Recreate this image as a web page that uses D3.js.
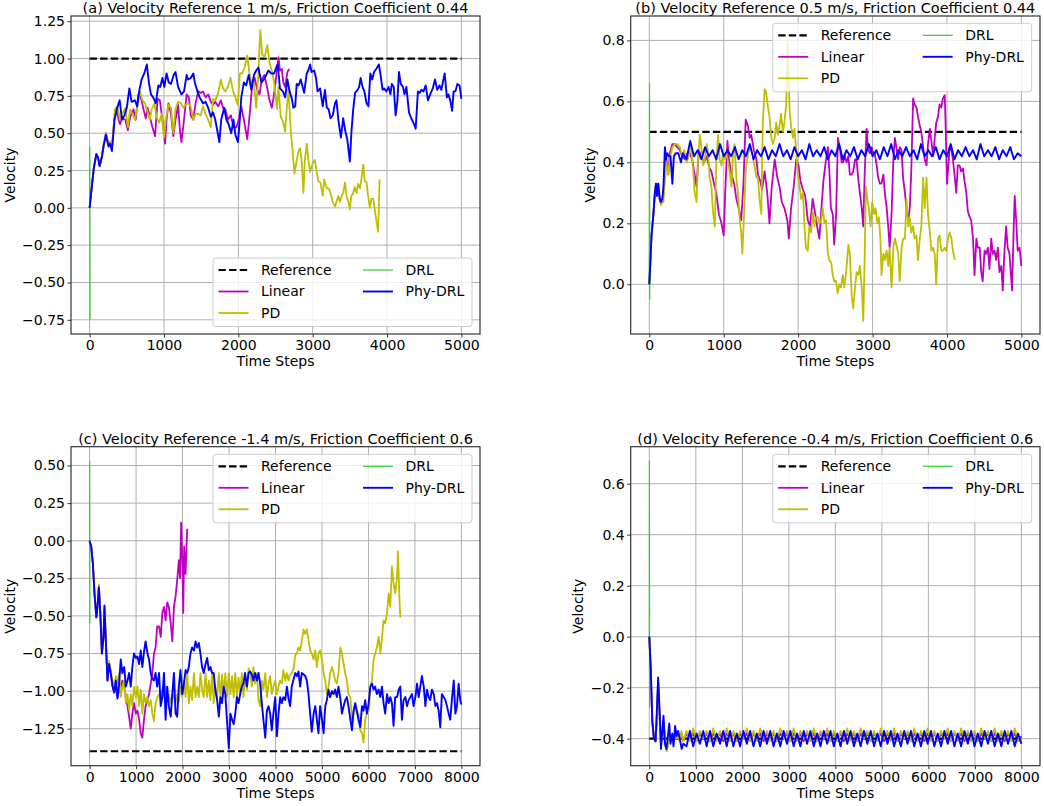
<!DOCTYPE html>
<html>
<head>
<meta charset="utf-8">
<script src="https://cdn.jsdelivr.net/npm/d3@7"></script>
<style>
  body { margin: 0; background: #fff; }
  svg { display: block; font-family: "DejaVu Sans", sans-serif; }
</style>
</head>
<body>
<div id="chart"></div>
<script>
// ---- Titles, legend names, ticks ----
var titles = [
  "(a) Velocity Reference 1 m/s, Friction Coefficient 0.44",
  "(b) Velocity Reference 0.5 m/s, Friction Coefficient 0.44",
  "(c) Velocity Reference -1.4 m/s, Friction Coefficient 0.6",
  "(d) Velocity Reference -0.4 m/s, Friction Coefficient 0.6"
];
var seriesNames = ["Reference", "Linear", "PD", "DRL", "Phy-DRL"];
var xTicks5k = [0, 1000, 2000, 3000, 4000, 5000];
var xTicks8k = [0, 1000, 2000, 3000, 4000, 5000, 6000, 7000, 8000];
var aYTicks = [-0.75, -0.5, -0.25, 0, 0.25, 0.5, 0.75, 1.0, 1.25];
var bYTicks = [0, 0.2, 0.4, 0.6, 0.8];
var cYTicks = [-1.25, -1.0, -0.75, -0.5, -0.25, 0, 0.25, 0.5];
var dYTicks = [-0.4, -0.2, 0, 0.2, 0.4, 0.6];
var referenceValues = [1.0, 0.5, -1.4, -0.4];
var referenceEnds = [5000, 5000, 8000, 8000];

// ---- (a) reference 1 m/s ----
var aDrl = [[0, 0], [3, 0.41], [6, -0.75]];
var aLinear = [[0,0],[55,0.26],[90,0.36],[112,0.34],[135,0.28],[165,0.34],[190,0.42],[220,0.50],[255,0.42],[275,0.44],[300,0.40],[335,0.60],[365,0.66],[390,0.59],[410,0.56],[435,0.60],[480,0.59],[515,0.52],[545,0.61],[590,0.66],[620,0.59],[655,0.76],[690,0.74],[725,0.66],[755,0.60],[780,0.67],[810,0.61],[845,0.54],[880,0.48],[915,0.73],[945,0.72],[980,0.59],[1015,0.43],[1035,0.59],[1060,0.70],[1095,0.63],[1125,0.48],[1155,0.59],[1190,0.69],[1215,0.52],[1235,0.44],[1270,0.59],[1305,0.76],[1335,0.74],[1360,0.62],[1395,0.59],[1425,0.70],[1460,0.78],[1495,0.77],[1525,0.78],[1560,0.74],[1595,0.76],[1630,0.71],[1660,0.69],[1690,0.71],[1730,0.68],[1765,0.72],[1795,0.67],[1825,0.66],[1860,0.59],[1900,0.62],[1935,0.54],[1975,0.54],[2005,0.59],[2040,0.68],[2075,0.59],[2120,0.46],[2150,0.61],[2185,0.81],[2220,0.87],[2255,0.79],[2285,0.76],[2315,0.86],[2350,0.89],[2390,0.80],[2420,0.72],[2450,0.67],[2475,0.74],[2510,0.88],[2540,1.01],[2560,0.92],[2585,0.93],[2605,0.84],[2630,0.81],[2660,0.91],[2685,0.93]];
var aPd = [[0,0],[55,0.26],[90,0.36],[112,0.34],[135,0.29],[165,0.35],[190,0.43],[220,0.50],[255,0.42],[275,0.44],[300,0.40],[340,0.66],[375,0.68],[410,0.59],[440,0.63],[480,0.67],[515,0.54],[545,0.66],[575,0.63],[610,0.59],[645,0.69],[680,0.78],[710,0.72],[745,0.70],[780,0.64],[810,0.59],[835,0.66],[870,0.70],[900,0.61],[935,0.57],[970,0.63],[1000,0.47],[1025,0.59],[1060,0.69],[1095,0.67],[1125,0.50],[1155,0.66],[1190,0.71],[1230,0.70],[1260,0.67],[1290,0.69],[1325,0.70],[1360,0.68],[1395,0.59],[1425,0.63],[1460,0.63],[1495,0.62],[1525,0.68],[1560,0.63],[1595,0.59],[1630,0.54],[1660,0.73],[1690,0.72],[1730,0.77],[1765,0.86],[1795,0.80],[1825,0.78],[1860,0.81],[1895,0.87],[1930,0.78],[1960,0.74],[1995,0.69],[2020,0.90],[2050,0.90],[2085,0.94],[2120,1.02],[2150,0.90],[2185,0.82],[2210,0.84],[2240,0.67],[2265,0.86],[2295,1.19],[2320,1.03],[2355,1.01],[2390,1.09],[2420,0.97],[2450,0.92],[2485,0.83],[2520,0.66],[2540,0.81],[2570,0.61],[2600,0.58],[2630,0.51],[2650,0.66],[2675,0.79],[2705,0.52],[2730,0.38],[2755,0.23],[2785,0.32],[2810,0.38],[2830,0.40],[2855,0.30],[2875,0.10],[2895,0.32],[2920,0.43],[2940,0.33],[2965,0.24],[3000,0.30],[3030,0.32],[3055,0.24],[3075,0.18],[3105,0.17],[3135,0.08],[3155,0.19],[3190,0.13],[3215,0.13],[3240,0.10],[3270,0.04],[3300,0.01],[3320,0.04],[3345,0.08],[3365,0.04],[3390,0.08],[3410,0.10],[3435,0.17],[3455,0.08],[3480,0.04],[3500,-0.01],[3520,0.08],[3545,0.10],[3565,0.14],[3590,0.10],[3610,0.16],[3635,0.13],[3655,0.19],[3680,0.29],[3700,0.18],[3725,0.17],[3745,0.08],[3770,0.00],[3790,0.06],[3815,0.06],[3835,-0.01],[3855,-0.08],[3880,-0.16],[3900,0.19]];
var aPhyDrl = [[0,0],[55,0.26],[90,0.36],[112,0.34],[135,0.28],[165,0.34],[190,0.42],[220,0.49],[255,0.41],[275,0.43],[300,0.38],[335,0.59],[370,0.67],[405,0.72],[435,0.59],[470,0.62],[500,0.67],[535,0.80],[565,0.71],[610,0.72],[640,0.68],[670,0.79],[700,0.86],[735,0.90],[770,0.96],[800,0.83],[825,0.76],[855,0.74],[890,0.70],[925,0.82],[950,0.81],[980,0.87],[1005,0.81],[1035,0.90],[1065,0.84],[1095,0.83],[1130,0.89],[1155,0.91],[1190,0.81],[1235,0.76],[1270,0.78],[1305,0.89],[1325,0.86],[1360,0.87],[1395,0.90],[1415,0.84],[1450,0.78],[1480,0.74],[1525,0.70],[1560,0.71],[1595,0.67],[1630,0.61],[1660,0.64],[1690,0.59],[1720,0.51],[1745,0.44],[1770,0.59],[1810,0.67],[1840,0.59],[1870,0.56],[1905,0.50],[1935,0.59],[1960,0.49],[1995,0.44],[2020,0.59],[2040,0.74],[2075,0.84],[2105,0.82],[2140,0.89],[2175,0.79],[2210,0.89],[2240,0.92],[2270,0.94],[2310,0.84],[2345,0.86],[2375,0.89],[2405,0.92],[2440,0.90],[2480,0.90],[2510,0.94],[2530,0.96],[2560,0.80],[2600,0.78],[2630,0.74],[2660,0.86],[2690,0.78],[2720,0.73],[2740,0.67],[2765,0.68],[2785,0.83],[2810,0.82],[2840,0.86],[2860,0.82],[2885,0.77],[2920,0.90],[2940,0.92],[2965,0.96],[2985,0.91],[3020,0.92],[3045,0.87],[3065,0.78],[3100,0.80],[3120,0.73],[3135,0.68],[3165,0.79],[3190,0.67],[3215,0.66],[3240,0.60],[3270,0.62],[3300,0.70],[3320,0.72],[3345,0.59],[3380,0.47],[3410,0.60],[3440,0.51],[3465,0.46],[3500,0.31],[3520,0.50],[3545,0.66],[3570,0.77],[3605,0.79],[3625,0.81],[3645,0.87],[3670,0.81],[3695,0.78],[3725,0.70],[3750,0.68],[3775,0.90],[3800,0.86],[3825,0.91],[3855,0.93],[3890,0.96],[3910,0.90],[3940,0.79],[3960,0.80],[3990,0.78],[4020,0.81],[4045,0.76],[4065,0.83],[4090,0.81],[4115,0.62],[4140,0.72],[4160,0.91],[4185,0.83],[4215,0.81],[4235,0.76],[4260,0.81],[4295,0.64],[4325,0.60],[4355,0.57],[4385,0.53],[4415,0.78],[4440,0.77],[4460,0.79],[4490,0.78],[4520,0.82],[4550,0.72],[4580,0.76],[4615,0.80],[4645,0.86],[4675,0.79],[4705,0.82],[4730,0.79],[4750,0.84],[4775,0.90],[4805,0.74],[4825,0.76],[4850,0.72],[4875,0.65],[4895,0.78],[4920,0.78],[4945,0.83],[4975,0.82],[5000,0.73]];

// ---- (b) reference 0.5 m/s ----
var bDrl = [[0, 0], [3, 0.66], [6, -0.05]];
var bLinear = [[0,0],[30,0.16],[55,0.23],[75,0.30],[90,0.33],[105,0.29],[120,0.33],[140,0.28],[155,0.27],[175,0.28],[190,0.30],[210,0.37],[230,0.41],[255,0.36],[275,0.43],[310,0.46],[345,0.46],[375,0.45],[410,0.44],[440,0.42],[480,0.41],[510,0.43],[545,0.43],[575,0.41],[610,0.36],[635,0.32],[665,0.44],[700,0.42],[735,0.40],[770,0.42],[810,0.38],[835,0.37],[870,0.33],[900,0.30],[935,0.23],[970,0.20],[1000,0.16],[1020,0.30],[1050,0.47],[1070,0.41],[1105,0.36],[1140,0.33],[1170,0.28],[1200,0.25],[1235,0.21],[1265,0.33],[1295,0.54],[1325,0.52],[1350,0.48],[1370,0.49],[1405,0.44],[1440,0.41],[1460,0.36],[1490,0.34],[1515,0.31],[1550,0.37],[1585,0.30],[1615,0.20],[1645,0.32],[1685,0.41],[1720,0.35],[1750,0.32],[1780,0.27],[1815,0.25],[1855,0.21],[1875,0.15],[1905,0.25],[1940,0.32],[1975,0.41],[2005,0.39],[2030,0.34],[2065,0.31],[2095,0.29],[2130,0.21],[2160,0.19],[2195,0.28],[2230,0.23],[2255,0.19],[2285,0.15],[2310,0.24],[2340,0.34],[2375,0.41],[2400,0.45],[2420,0.37],[2440,0.25],[2465,0.23],[2485,0.13],[2510,0.23],[2535,0.48],[2565,0.44],[2585,0.40],[2605,0.40],[2630,0.42],[2650,0.40],[2675,0.42],[2695,0.36],[2720,0.36],[2740,0.37],[2765,0.41],[2785,0.41],[2810,0.34],[2830,0.30],[2855,0.25],[2875,0.19],[2895,0.37],[2920,0.51],[2940,0.44],[2965,0.43],[2985,0.45],[3010,0.43],[3030,0.43],[3055,0.39],[3075,0.35],[3100,0.33],[3120,0.33],[3145,0.36],[3165,0.30],[3190,0.25],[3210,0.19],[3230,0.12],[3255,0.23],[3280,0.41],[3300,0.48],[3320,0.45],[3345,0.41],[3365,0.45],[3390,0.44],[3410,0.35],[3435,0.30],[3455,0.25],[3480,0.21],[3500,0.25],[3520,0.37],[3545,0.61],[3565,0.59],[3590,0.58],[3610,0.55],[3635,0.52],[3655,0.50],[3680,0.45],[3700,0.41],[3725,0.39],[3745,0.46],[3770,0.51],[3790,0.47],[3815,0.42],[3835,0.48],[3855,0.53],[3880,0.55],[3900,0.59],[3925,0.58],[3945,0.61],[3970,0.62],[3980,0.54],[4000,0.33],[4020,0.39],[4035,0.45],[4060,0.44],[4080,0.41],[4105,0.35],[4125,0.30],[4145,0.39],[4170,0.39],[4190,0.37],[4215,0.38],[4235,0.34],[4260,0.30],[4280,0.24],[4305,0.22],[4325,0.21],[4350,0.15],[4370,0.03],[4395,0.15],[4415,0.12],[4440,0.12],[4460,0.04],[4480,0.01],[4505,0.11],[4525,0.10],[4550,0.12],[4570,0.05],[4595,0.15],[4615,0.10],[4640,0.11],[4660,0.08],[4685,0.12],[4705,0.04],[4730,0.06],[4750,-0.02],[4770,0.10],[4795,0.19],[4815,0.12],[4840,0.10],[4860,0.03],[4875,-0.02],[4895,0.17],[4910,0.29],[4930,0.21],[4950,0.11],[4975,0.12],[5000,0.06]];
var bPd = [[0,0],[30,0.16],[55,0.23],[75,0.30],[90,0.33],[105,0.29],[120,0.33],[140,0.28],[155,0.26],[175,0.27],[190,0.27],[210,0.34],[230,0.40],[255,0.36],[275,0.41],[310,0.45],[345,0.46],[380,0.46],[410,0.45],[440,0.42],[470,0.44],[500,0.40],[530,0.42],[560,0.45],[590,0.37],[610,0.30],[635,0.27],[655,0.41],[680,0.49],[700,0.45],[725,0.39],[745,0.41],[770,0.46],[790,0.43],[810,0.35],[835,0.32],[855,0.24],[880,0.19],[900,0.40],[925,0.49],[945,0.41],[970,0.39],[990,0.43],[1015,0.41],[1035,0.43],[1060,0.40],[1080,0.37],[1105,0.32],[1125,0.43],[1145,0.46],[1170,0.35],[1190,0.30],[1215,0.21],[1235,0.17],[1250,0.10],[1270,0.21],[1295,0.37],[1315,0.41],[1340,0.44],[1360,0.45],[1385,0.43],[1405,0.40],[1440,0.35],[1460,0.35],[1480,0.28],[1505,0.23],[1525,0.53],[1550,0.64],[1570,0.63],[1595,0.58],[1615,0.55],[1640,0.48],[1660,0.46],[1685,0.48],[1705,0.53],[1730,0.49],[1750,0.52],[1770,0.56],[1795,0.50],[1815,0.53],[1840,0.59],[1860,0.80],[1885,0.57],[1905,0.52],[1930,0.48],[1950,0.51],[1975,0.44],[1995,0.36],[2020,0.32],[2040,0.28],[2065,0.30],[2085,0.19],[2105,0.12],[2130,0.11],[2150,0.19],[2175,0.17],[2195,0.24],[2220,0.19],[2240,0.22],[2265,0.22],[2285,0.20],[2310,0.21],[2330,0.25],[2355,0.20],[2375,0.21],[2400,0.10],[2420,0.08],[2445,0.07],[2465,0.03],[2485,0.01],[2510,0.01],[2530,-0.03],[2555,0.00],[2575,-0.01],[2600,0.03],[2620,-0.01],[2645,0.04],[2675,0.13],[2695,0.10],[2720,-0.04],[2740,-0.08],[2765,-0.01],[2785,0.04],[2810,0.03],[2830,0.06],[2855,-0.01],[2875,-0.12],[2895,0.10],[2910,0.32],[2930,0.28],[2950,0.25],[2975,0.19],[2995,0.27],[3020,0.23],[3040,0.25],[3065,0.20],[3085,0.22],[3105,0.15],[3120,0.03],[3145,0.10],[3165,0.08],[3190,0.11],[3210,0.06],[3230,0.12],[3255,-0.01],[3280,0.12],[3300,0.15],[3320,0.13],[3345,0.10],[3365,0.01],[3390,0.12],[3410,0.15],[3435,0.15],[3455,0.28],[3480,0.19],[3500,0.22],[3520,0.17],[3545,0.19],[3565,0.15],[3590,0.16],[3610,0.08],[3635,0.15],[3655,0.19],[3680,0.35],[3700,0.25],[3725,0.35],[3745,0.23],[3770,0.17],[3790,0.11],[3815,0.12],[3835,0.10],[3855,0.00],[3880,0.15],[3900,0.16],[3925,0.11],[3945,0.11],[3970,0.12],[3990,0.11],[4015,0.15],[4035,0.17],[4060,0.15],[4080,0.11],[4105,0.08]];
var bPhyDrlStart = [[0,0],[30,0.16],[55,0.23],[75,0.30],[90,0.33],[105,0.29],[120,0.33],[140,0.28],[155,0.27],[175,0.28],[190,0.32],[210,0.45],[225,0.41],[240,0.43],[265,0.42],[285,0.42],[310,0.33],[330,0.42],[355,0.43],[390,0.43],[425,0.40]];
// steady part, one reading every 50 steps from t = 450
var bPhyDrlSteady = [
  0.43,0.41,0.47,0.42,0.44,0.41,0.45,0.42,0.44,0.41,
  0.46,0.42,0.44,0.42,0.45,0.41,0.44,0.42,0.46,0.41,
  0.44,0.42,0.45,0.41,0.44,0.42,0.46,0.42,0.44,0.41,
  0.45,0.42,0.44,0.41,0.46,0.42,0.44,0.42,0.45,0.41,
  0.44,0.42,0.46,0.41,0.44,0.42,0.45,0.41,0.44,0.42,
  0.46,0.42,0.44,0.41,0.45,0.42,0.46,0.41,0.44,0.42,
  0.45,0.42,0.44,0.41,0.46,0.42,0.44,0.42,0.45,0.41,
  0.44,0.42,0.46,0.41,0.44,0.42,0.45,0.42,0.44,0.41,
  0.46,0.42,0.44,0.42,0.45,0.41,0.44,0.42,0.45,0.41,
  0.43,0.42
];

// ---- (c) reference -1.4 m/s ----
var cDrl = [[0, 0], [3, 0.53], [6, -0.55]];
var cLinear = [[0,0],[35,-0.04],[70,-0.15],[105,-0.35],[145,-0.51],[170,-0.44],[200,-0.30],[230,-0.48],[265,-0.75],[300,-0.64],[320,-0.45],[355,-0.71],[385,-0.93],[420,-0.82],[455,-0.88],[495,-0.97],[530,-1.01],[565,-0.95],[600,-1.04],[635,-1.00],[670,-0.97],[705,-0.93],[745,-0.97],[780,-1.04],[815,-1.10],[850,-1.17],[885,-1.25],[920,-1.15],[955,-1.08],[995,-1.15],[1030,-1.13],[1065,-1.19],[1100,-1.28],[1135,-1.31],[1170,-1.19],[1205,-1.10],[1245,-1.06],[1280,-1.02],[1315,-0.95],[1350,-0.88],[1385,-0.75],[1420,-0.71],[1455,-0.57],[1495,-0.57],[1530,-0.64],[1565,-0.48],[1600,-0.44],[1635,-0.53],[1670,-0.41],[1705,-0.44],[1745,-0.55],[1780,-0.67],[1815,-0.44],[1850,-0.37],[1885,-0.26],[1920,-0.13],[1945,-0.25],[1970,0.12],[1995,-0.13],[2015,-0.48],[2035,-0.04],[2065,-0.22],[2100,0.08]];
var cPd = [[0,0],[35,-0.04],[70,-0.15],[105,-0.34],[145,-0.50],[170,-0.43],[200,-0.29],[230,-0.47],[265,-0.74],[300,-0.63],[320,-0.44],[355,-0.70],[385,-0.92],[420,-0.80],[455,-0.86],[495,-0.93],[530,-0.97],[565,-0.90],[600,-0.95],[635,-0.88],[670,-1.04],[705,-0.97],[745,-0.93],[780,-1.08],[815,-1.02],[850,-1.13],[885,-1.02],[920,-1.10],[955,-0.97],[995,-1.04],[1030,-0.97],[1065,-1.10],[1100,-0.99],[1135,-1.15],[1170,-1.02],[1205,-1.08],[1245,-1.04],[1280,-1.10],[1315,-1.06],[1350,-1.15],[1385,-1.20],[1420,-1.08],[1455,-1.04],[1495,-1.02],[1530,-1.06],[1565,-0.99],[1600,-1.04],[1635,-0.97],[1670,-1.06],[1705,-1.02],[1745,-1.08],[1780,-1.02],[1815,-1.04],[1850,-1.08],[1885,-1.02],[1920,-1.07],[1955,-0.97],[1995,-1.04],[2030,-0.93],[2065,-1.04],[2100,-0.88],[2135,-1.08],[2170,-0.97],[2205,-1.06],[2245,-0.88],[2280,-1.04],[2315,-0.97],[2350,-1.04],[2385,-0.88],[2420,-0.99],[2455,-1.04],[2495,-0.88],[2530,-1.04],[2565,-0.93],[2600,-1.06],[2635,-0.88],[2670,-1.08],[2705,-0.97],[2745,-1.04],[2780,-0.88],[2815,-1.04],[2850,-0.89],[2885,-1.02],[2920,-0.88],[2955,-1.04],[2995,-0.88],[3030,-1.02],[3065,-0.90],[3100,-1.04],[3135,-0.88],[3170,-1.04],[3205,-0.91],[3240,-1.02],[3275,-0.88],[3310,-1.04],[3345,-0.90],[3385,-0.99],[3420,-0.85],[3455,-0.88],[3490,-0.97],[3525,-0.84],[3560,-0.95],[3600,-0.88],[3635,-1.06],[3670,-1.10],[3705,-0.93],[3740,-0.99],[3780,-0.88],[3815,-1.04],[3850,-0.95],[3885,-0.90],[3920,-1.02],[3955,-0.97],[3995,-0.93],[4030,-1.02],[4065,-0.97],[4100,-0.93],[4135,-0.95],[4170,-0.86],[4210,-0.93],[4245,-0.88],[4280,-0.93],[4315,-0.89],[4350,-0.88],[4390,-0.85],[4425,-0.76],[4460,-0.75],[4495,-0.71],[4530,-0.73],[4565,-0.67],[4605,-0.59],[4640,-0.62],[4675,-0.59],[4710,-0.66],[4745,-0.73],[4780,-0.75],[4820,-0.79],[4855,-0.73],[4890,-0.84],[4925,-0.75],[4960,-0.73],[5000,-0.79],[5035,-0.88],[5070,-0.93],[5105,-1.02],[5140,-0.97],[5175,-0.88],[5215,-0.84],[5250,-0.88],[5285,-0.93],[5320,-0.95],[5355,-0.88],[5395,-0.71],[5430,-0.75],[5465,-0.82],[5500,-0.88],[5535,-0.93],[5570,-1.02],[5610,-1.04],[5645,-1.19],[5680,-1.15],[5715,-1.10],[5750,-1.15],[5785,-1.15],[5825,-1.26],[5860,-1.28],[5895,-1.34],[5930,-1.19],[5965,-1.15],[6005,-1.13],[6040,-0.97],[6075,-0.93],[6110,-0.79],[6145,-0.75],[6180,-0.71],[6220,-0.64],[6255,-0.75],[6290,-0.65],[6325,-0.53],[6360,-0.55],[6400,-0.48],[6435,-0.35],[6470,-0.44],[6505,-0.17],[6540,-0.28],[6575,-0.35],[6615,-0.24],[6635,-0.07],[6665,-0.37],[6685,-0.51]];
var cPhyDrl = [[0,0],[35,-0.04],[70,-0.15],[105,-0.35],[145,-0.51],[170,-0.44],[200,-0.31],[230,-0.48],[265,-0.75],[300,-0.64],[320,-0.43],[355,-0.71],[385,-0.93],[420,-0.82],[455,-0.88],[495,-0.97],[530,-1.01],[565,-0.93],[600,-1.05],[635,-0.95],[670,-0.79],[705,-0.88],[745,-0.84],[780,-0.97],[815,-0.93],[850,-0.88],[885,-0.97],[920,-0.84],[955,-0.75],[995,-0.78],[1030,-0.77],[1065,-0.82],[1100,-0.73],[1135,-0.84],[1170,-0.74],[1205,-0.67],[1245,-0.75],[1280,-0.79],[1315,-0.88],[1350,-0.92],[1385,-0.93],[1420,-0.88],[1455,-0.97],[1495,-0.88],[1530,-1.10],[1565,-1.04],[1600,-0.88],[1635,-1.19],[1670,-0.97],[1705,-1.10],[1745,-1.17],[1780,-1.02],[1815,-0.88],[1850,-1.15],[1885,-1.17],[1920,-0.97],[1955,-0.86],[1995,-1.02],[2030,-0.95],[2065,-0.86],[2100,-0.88],[2135,-0.84],[2170,-0.75],[2205,-0.71],[2245,-0.73],[2280,-0.67],[2315,-0.71],[2350,-0.68],[2385,-0.75],[2420,-0.84],[2455,-0.88],[2495,-0.82],[2530,-0.78],[2565,-0.86],[2600,-0.84],[2635,-0.88],[2670,-0.88],[2705,-0.99],[2745,-1.06],[2780,-1.17],[2815,-1.04],[2850,-1.08],[2885,-0.97],[2920,-1.02],[2955,-1.19],[2995,-1.38],[3030,-1.15],[3065,-1.19],[3100,-1.22],[3135,-1.15],[3170,-1.04],[3205,-1.08],[3240,-1.02],[3275,-0.97],[3310,-0.95],[3345,-0.88],[3385,-0.97],[3420,-0.88],[3455,-0.87],[3490,-0.89],[3525,-0.93],[3560,-0.88],[3600,-0.93],[3635,-0.88],[3670,-0.95],[3705,-1.08],[3740,-1.19],[3780,-1.31],[3815,-1.13],[3850,-1.10],[3885,-1.15],[3920,-1.26],[3955,-1.15],[3995,-1.04],[4030,-1.30],[4065,-1.15],[4100,-1.04],[4135,-1.08],[4170,-1.04],[4210,-1.06],[4245,-0.97],[4280,-1.05],[4315,-1.10],[4350,-0.97],[4390,-0.92],[4425,-0.88],[4460,-0.90],[4495,-0.87],[4530,-0.97],[4565,-0.88],[4605,-0.89],[4640,-0.90],[4675,-0.93],[4710,-1.02],[4745,-1.15],[4780,-1.27],[4820,-1.15],[4855,-1.10],[4890,-1.19],[4925,-1.28],[4960,-1.10],[5000,-1.19],[5035,-1.28],[5070,-1.10],[5105,-1.06],[5140,-0.99],[5175,-1.04],[5215,-1.00],[5250,-1.02],[5285,-0.99],[5320,-1.04],[5355,-0.97],[5395,-1.05],[5430,-1.15],[5465,-1.10],[5500,-1.06],[5535,-1.04],[5570,-1.10],[5610,-1.19],[5645,-1.26],[5680,-1.13],[5715,-1.08],[5750,-1.13],[5785,-1.19],[5825,-1.24],[5860,-1.10],[5895,-1.13],[5930,-1.06],[5965,-1.15],[6005,-1.08],[6040,-0.97],[6075,-0.95],[6110,-0.99],[6145,-0.97],[6180,-1.02],[6220,-0.99],[6255,-1.04],[6290,-0.97],[6325,-1.08],[6360,-1.15],[6400,-1.02],[6435,-1.08],[6470,-1.04],[6505,-1.08],[6540,-1.23],[6575,-1.04],[6615,-1.04],[6650,-0.99],[6685,-0.97],[6720,-1.19],[6755,-1.06],[6795,-1.04],[6830,-1.10],[6865,-1.06],[6900,-1.04],[6935,-1.02],[6970,-1.10],[7010,-1.04],[7045,-0.95],[7080,-1.04],[7115,-0.97],[7150,-0.90],[7190,-0.97],[7225,-1.10],[7260,-0.99],[7295,-1.04],[7330,-1.06],[7365,-0.99],[7405,-1.02],[7440,-1.10],[7475,-1.08],[7510,-1.13],[7545,-1.24],[7580,-1.02],[7620,-1.04],[7655,-1.06],[7690,-1.10],[7725,-1.15],[7760,-1.19],[7800,-1.04],[7835,-0.93],[7870,-1.15],[7905,-1.10],[7940,-0.95],[7975,-1.06],[8000,-1.09]];

// ---- (d) reference -0.4 m/s ----
var dDrl = [[0, 0], [3, 0.69], [6, -0.28]];
var dLinearStart = [[0,0],[30,-0.13],[65,-0.34],[100,-0.40],[135,-0.41],[155,-0.34],[190,-0.18],[230,-0.34],[250,-0.42],[280,-0.38],[305,-0.33],[335,-0.40],[355,-0.43],[375,-0.44],[400,-0.42],[430,-0.38],[460,-0.40],[495,-0.39],[530,-0.41],[560,-0.38],[590,-0.40],[620,-0.39],[655,-0.41],[690,-0.38],[730,-0.41]];
var dPdStart = [[0,0],[30,-0.12],[65,-0.33],[100,-0.40],[135,-0.41],[155,-0.34],[190,-0.18],[230,-0.34],[250,-0.42],[280,-0.38],[305,-0.33],[335,-0.40],[355,-0.44],[375,-0.45],[400,-0.43],[430,-0.37],[460,-0.40],[495,-0.39],[530,-0.41],[560,-0.38],[590,-0.40],[620,-0.39],[655,-0.41],[690,-0.37],[730,-0.41]];
var dPhyDrlStart = [[0,0],[30,-0.12],[65,-0.33],[100,-0.40],[135,-0.41],[155,-0.33],[190,-0.16],[230,-0.33],[250,-0.44],[280,-0.37],[305,-0.31],[335,-0.42],[370,-0.44],[400,-0.39],[430,-0.34],[455,-0.42],[495,-0.38],[520,-0.43],[555,-0.35],[585,-0.39],[620,-0.37],[655,-0.40],[695,-0.44],[730,-0.42]];
// steady parts, one reading every 72 steps from t = 800
var dLinearSteady = [
  -0.38,-0.40,-0.38,-0.41,-0.38,-0.40,-0.38,-0.41,-0.38,-0.40,
  -0.38,-0.41,-0.38,-0.40,-0.38,-0.41,-0.38,-0.40,-0.38,-0.41,
  -0.38,-0.40,-0.38,-0.41,-0.38,-0.40,-0.38,-0.41,-0.38,-0.40,
  -0.38,-0.41,-0.38,-0.40,-0.38,-0.41,-0.38,-0.40,-0.38,-0.41,
  -0.38,-0.40,-0.38,-0.41,-0.38,-0.40,-0.38,-0.41,-0.38,-0.40,
  -0.38,-0.41,-0.38,-0.40,-0.38,-0.41,-0.38,-0.40,-0.38,-0.41,
  -0.38,-0.40,-0.38,-0.41,-0.38,-0.40,-0.38,-0.41,-0.38,-0.40,
  -0.38,-0.41,-0.38,-0.40,-0.38,-0.41,-0.38,-0.40,-0.38,-0.41,
  -0.38,-0.40,-0.38,-0.41,-0.38,-0.40,-0.38,-0.41,-0.38,-0.40,
  -0.38,-0.41,-0.38,-0.40,-0.38,-0.41,-0.38,-0.40,-0.38,-0.41,
  -0.39
];
var dPdSteady = [
  -0.37,-0.41,-0.36,-0.41,-0.37,-0.40,-0.37,-0.41,-0.36,-0.41,
  -0.37,-0.40,-0.36,-0.41,-0.37,-0.41,-0.37,-0.40,-0.36,-0.41,
  -0.37,-0.41,-0.36,-0.40,-0.37,-0.41,-0.37,-0.41,-0.36,-0.40,
  -0.37,-0.41,-0.36,-0.41,-0.37,-0.40,-0.37,-0.41,-0.36,-0.41,
  -0.37,-0.40,-0.36,-0.41,-0.37,-0.41,-0.37,-0.40,-0.36,-0.41,
  -0.37,-0.41,-0.36,-0.40,-0.37,-0.41,-0.37,-0.41,-0.36,-0.40,
  -0.37,-0.41,-0.36,-0.41,-0.37,-0.40,-0.37,-0.41,-0.36,-0.41,
  -0.37,-0.40,-0.36,-0.41,-0.37,-0.41,-0.37,-0.40,-0.36,-0.41,
  -0.37,-0.41,-0.36,-0.40,-0.37,-0.41,-0.37,-0.41,-0.36,-0.40,
  -0.37,-0.41,-0.36,-0.41,-0.37,-0.40,-0.37,-0.41,-0.36,-0.41,
  -0.40
];
var dPhyDrlSteady = [
  -0.43,-0.37,-0.43,-0.38,-0.42,-0.37,-0.43,-0.37,-0.43,-0.38,
  -0.42,-0.37,-0.43,-0.37,-0.43,-0.38,-0.43,-0.37,-0.42,-0.37,
  -0.43,-0.38,-0.43,-0.37,-0.42,-0.37,-0.43,-0.38,-0.43,-0.37,
  -0.42,-0.37,-0.43,-0.38,-0.43,-0.37,-0.42,-0.37,-0.43,-0.38,
  -0.43,-0.37,-0.42,-0.37,-0.43,-0.38,-0.43,-0.37,-0.42,-0.37,
  -0.43,-0.38,-0.43,-0.37,-0.42,-0.37,-0.43,-0.38,-0.43,-0.37,
  -0.42,-0.37,-0.43,-0.38,-0.43,-0.37,-0.42,-0.37,-0.43,-0.38,
  -0.43,-0.37,-0.42,-0.37,-0.43,-0.38,-0.43,-0.37,-0.42,-0.37,
  -0.43,-0.38,-0.43,-0.37,-0.42,-0.37,-0.43,-0.38,-0.43,-0.37,
  -0.42,-0.37,-0.43,-0.38,-0.43,-0.37,-0.42,-0.37,-0.43,-0.38,
  -0.42
];

// ---- build the full series tables ----
function withSteady(start, steady, t0, step) {
  return start.concat(steady.map(function(v, i) { return [t0 + i * step, v]; }));
}
var bPhyDrl = withSteady(bPhyDrlStart, bPhyDrlSteady, 450, 50);
var dLinear = withSteady(dLinearStart, dLinearSteady, 800, 72);
var dPd = withSteady(dPdStart, dPdSteady, 800, 72);
var dPhyDrl = withSteady(dPhyDrlStart, dPhyDrlSteady, 800, 72);

var colors = { Reference: "#000000", Linear: "#bf00bf", PD: "#bfbf00", DRL: "#33cc33", "Phy-DRL": "#0000ff" };
var widths = { Reference: 2.2, Linear: 1.8, PD: 1.8, DRL: 1.2, "Phy-DRL": 1.9 };

var panels = [
  { box: [71, 16, 480, 334], xDomain: [-250, 5250], yDomain: [-0.845, 1.285], xTicks: xTicks5k, yTicks: aYTicks, yFmt: ".2f",
    lines: { Linear: aLinear, PD: aPd, DRL: aDrl, "Phy-DRL": aPhyDrl }, legend: [213, 258], yLabelX: 15 },
  { box: [630.7, 16, 1040, 334], xDomain: [-250, 5250], yDomain: [-0.163, 0.88], xTicks: xTicks5k, yTicks: bYTicks, yFmt: ".1f",
    lines: { Linear: bLinear, PD: bPd, DRL: bDrl, "Phy-DRL": bPhyDrl }, legend: [772.7, 23.3], yLabelX: 595 },
  { box: [71, 446.7, 480, 765.7], xDomain: [-400, 8400], yDomain: [-1.496, 0.625], xTicks: xTicks8k, yTicks: cYTicks, yFmt: ".2f",
    lines: { Linear: cLinear, PD: cPd, DRL: cDrl, "Phy-DRL": cPhyDrl }, legend: [213, 454.3], yLabelX: 15 },
  { box: [630.7, 446.7, 1040, 765.7], xDomain: [-400, 8400], yDomain: [-0.506, 0.745], xTicks: xTicks8k, yTicks: dYTicks, yFmt: ".1f",
    lines: { Linear: dLinear, PD: dPd, DRL: dDrl, "Phy-DRL": dPhyDrl }, legend: [772.7, 454.3], yLabelX: 583 }
];

var svg = d3.select("#chart").append("svg")
  .attr("width", 1044)
  .attr("height", 806);

panels.forEach(function(p, i) {
  var left = p.box[0], top = p.box[1], right = p.box[2], bottom = p.box[3];
  var x = d3.scaleLinear().domain(p.xDomain).range([left, right]);
  var y = d3.scaleLinear().domain(p.yDomain).range([bottom, top]);
  var g = svg.append("g");

  // clip to the axes box
  g.append("clipPath").attr("id", "clip" + i)
    .append("rect").attr("x", left).attr("y", top).attr("width", right - left).attr("height", bottom - top);

  // grid
  g.selectAll(".vgrid").data(p.xTicks).enter().append("line")
    .attr("x1", function(d) { return x(d); }).attr("x2", function(d) { return x(d); })
    .attr("y1", top).attr("y2", bottom)
    .attr("stroke", "#b0b0b0").attr("stroke-width", 1);
  g.selectAll(".hgrid").data(p.yTicks).enter().append("line")
    .attr("y1", function(d) { return y(d); }).attr("y2", function(d) { return y(d); })
    .attr("x1", left).attr("x2", right)
    .attr("stroke", "#b0b0b0").attr("stroke-width", 1);

  // data lines
  var line = d3.line().x(function(d) { return x(d[0]); }).y(function(d) { return y(d[1]); });
  var plot = g.append("g").attr("clip-path", "url(#clip" + i + ")");
  plot.append("path")
    .datum([[0, referenceValues[i]], [referenceEnds[i], referenceValues[i]]])
    .attr("d", line).attr("fill", "none")
    .attr("stroke", colors.Reference).attr("stroke-width", widths.Reference)
    .attr("stroke-dasharray", "7.4,3.2");
  ["Linear", "PD", "DRL", "Phy-DRL"].forEach(function(name) {
    plot.append("path")
      .datum(p.lines[name])
      .attr("d", line).attr("fill", "none")
      .attr("stroke", colors[name]).attr("stroke-width", widths[name])
      .attr("stroke-linejoin", "round");
  });

  // spines
  g.append("rect").attr("x", left).attr("y", top).attr("width", right - left).attr("height", bottom - top)
    .attr("fill", "none").attr("stroke", "#333").attr("stroke-width", 1.2);

  // axes
  var xAxis = g.append("g").attr("transform", "translate(0," + bottom + ")")
    .call(d3.axisBottom(x).tickValues(p.xTicks).tickFormat(d3.format("d")).tickSize(3.5).tickPadding(2.5));
  var yAxis = g.append("g").attr("transform", "translate(" + left + ",0)")
    .call(d3.axisLeft(y).tickValues(p.yTicks).tickFormat(d3.format(p.yFmt)).tickSize(3.5).tickPadding(2.5));
  [xAxis, yAxis].forEach(function(ax) {
    ax.select(".domain").remove();
    ax.selectAll(".tick line").attr("stroke", "#333").attr("stroke-width", 1);
    ax.selectAll(".tick text").attr("fill", "#000").style("font-size", "14px")
      .style("font-family", "DejaVu Sans, sans-serif");
  });

  // title and axis labels
  g.append("text").attr("x", (left + right) / 2).attr("y", top - 3)
    .attr("text-anchor", "middle").style("font-size", "14.5px").text(titles[i]);
  g.append("text").attr("x", (left + right) / 2).attr("y", bottom + 32)
    .attr("text-anchor", "middle").style("font-size", "14px").text("Time Steps");
  g.append("text")
    .attr("transform", "translate(" + p.yLabelX + "," + ((top + bottom) / 2) + ") rotate(-90)")
    .attr("text-anchor", "middle").style("font-size", "14px").text("Velocity");

  // legend
  var lg = g.append("g").attr("transform", "translate(" + p.legend[0] + "," + p.legend[1] + ")");
  lg.append("rect").attr("width", 259).attr("height", 68.5).attr("rx", 3)
    .attr("fill", "#fff").attr("fill-opacity", 0.8).attr("stroke", "#cccccc").attr("stroke-width", 1);
  seriesNames.forEach(function(name, k) {
    var col = k < 3 ? 0 : 1;
    var row = k < 3 ? k : k - 3;
    var hx = col === 0 ? 5.5 : 150;
    var ry = 12 + row * 21.5;
    lg.append("line").attr("x1", hx).attr("x2", hx + 30).attr("y1", ry).attr("y2", ry)
      .attr("stroke", colors[name]).attr("stroke-width", widths[name])
      .attr("stroke-dasharray", name === "Reference" ? "7.4,3.2" : null);
    lg.append("text").attr("x", hx + 42.5).attr("y", ry).attr("dy", "0.35em")
      .style("font-size", "14px").text(name);
  });
});
</script>
</body>
</html>
